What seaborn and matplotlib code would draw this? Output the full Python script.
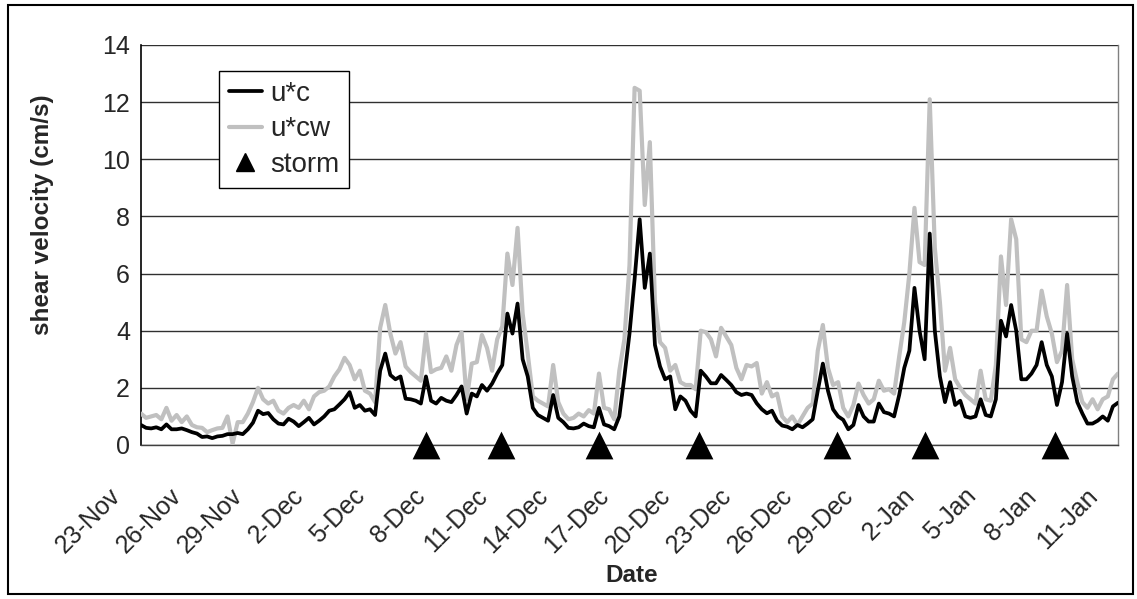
import matplotlib
import numpy as np
import pandas as pd

matplotlib.use("Agg")
import matplotlib.pyplot as plt
import matplotlib.transforms as mtransforms
from matplotlib.lines import Line2D
from matplotlib.patches import Rectangle
import seaborn as sns

# 6-hourly shear velocity samples (cm/s), starting at the 23-Nov tick
u_c = [
    0.70, 0.60, 0.58, 0.62, 0.55, 0.72, 0.55, 0.55,
    0.58, 0.52, 0.45, 0.40, 0.28, 0.30, 0.24, 0.30,
    0.32, 0.38, 0.38, 0.42, 0.38, 0.55, 0.78, 1.20,
    1.08, 1.12, 0.90, 0.75, 0.72, 0.92, 0.82, 0.66,
    0.80, 0.95, 0.72, 0.85, 1.00, 1.20, 1.25, 1.42,
    1.60, 1.85, 1.30, 1.40, 1.20, 1.25, 1.05, 2.60,
    3.20, 2.45, 2.30, 2.40, 1.62, 1.60, 1.55, 1.45,
    2.40, 1.55, 1.45, 1.65, 1.55, 1.50, 1.75, 2.05,
    1.10, 1.80, 1.70, 2.10, 1.90, 2.15, 2.50, 2.80,
    4.60, 3.90, 4.95, 3.00, 2.40, 1.30, 1.05, 0.95,
    0.85, 1.75, 0.95, 0.80, 0.60, 0.58, 0.62, 0.75,
    0.66, 0.62, 1.30, 0.72, 0.66, 0.55, 1.00, 2.40,
    3.90, 5.80, 7.90, 5.50, 6.70, 3.50, 2.75, 2.30,
    2.40, 1.25, 1.70, 1.55, 1.20, 1.00, 2.60, 2.40,
    2.16, 2.16, 2.45, 2.28, 2.10, 1.85, 1.75, 1.80,
    1.75, 1.46, 1.25, 1.11, 1.20, 0.85, 0.68, 0.64,
    0.55, 0.70, 0.62, 0.75, 0.90, 1.90, 2.85, 1.90,
    1.25, 1.00, 0.88, 0.55, 0.70, 1.40, 1.00, 0.82,
    0.82, 1.45, 1.15, 1.10, 1.00, 1.75, 2.70, 3.30,
    5.50, 4.00, 3.00, 7.40, 4.00, 2.40, 1.50, 2.20,
    1.40, 1.55, 1.00, 0.95, 1.00, 1.60, 1.05, 1.00,
    1.60, 4.35, 3.80, 4.90, 4.00, 2.30, 2.30, 2.50,
    2.80, 3.60, 2.80, 2.40, 1.40, 2.20, 3.90, 2.40,
    1.50, 1.10, 0.75, 0.75, 0.85, 1.00, 0.85, 1.35,
    1.48,
]
u_cw = [
    1.10, 0.95, 1.00, 1.05, 0.90, 1.30, 0.85, 1.05,
    0.80, 1.00, 0.70, 0.62, 0.60, 0.45, 0.52, 0.58,
    0.60, 1.00, 0.05, 0.80, 0.80, 1.10, 1.50, 2.00,
    1.60, 1.45, 1.55, 1.20, 1.10, 1.30, 1.40, 1.30,
    1.55, 1.25, 1.70, 1.85, 1.90, 2.05, 2.40, 2.65,
    3.05, 2.80, 2.30, 2.60, 1.90, 1.80, 1.50, 4.10,
    4.90, 3.90, 3.20, 3.60, 2.75, 2.55, 2.40, 2.25,
    3.90, 2.55, 2.65, 2.70, 3.10, 2.60, 3.50, 3.95,
    1.60, 2.85, 2.90, 3.85, 3.40, 2.60, 3.70, 4.15,
    6.70, 5.60, 7.60, 4.60, 3.20, 1.70, 1.55, 1.45,
    1.35, 2.80, 1.50, 1.10, 0.90, 0.95, 1.10, 1.00,
    1.22, 1.10, 2.50, 1.30, 1.25, 0.90, 2.60, 3.70,
    6.30, 12.50, 12.40, 8.40, 10.60, 5.00, 3.60, 3.40,
    2.60, 2.80, 2.20, 2.10, 2.10, 1.95, 4.00, 3.95,
    3.70, 3.10, 4.10, 3.80, 3.50, 2.70, 2.30, 2.80,
    2.75, 2.87, 1.80, 2.20, 1.70, 1.80, 1.00, 0.80,
    1.00, 0.70, 1.00, 1.30, 1.45, 3.30, 4.20, 2.70,
    2.10, 2.20, 1.30, 1.00, 1.40, 2.15, 1.75, 1.45,
    1.60, 2.25, 1.90, 1.95, 1.80, 3.10, 4.30, 6.00,
    8.30, 6.40, 6.30, 12.10, 6.90, 5.00, 2.60, 3.40,
    2.30, 2.00, 1.75, 1.60, 1.45, 2.60, 1.60, 1.55,
    2.80, 6.60, 4.90, 7.90, 7.20, 3.70, 3.60, 4.00,
    4.00, 5.40, 4.50, 3.90, 2.90, 3.30, 5.60, 3.00,
    2.20, 1.50, 1.30, 1.60, 1.25, 1.60, 1.70, 2.30,
    2.50,
]
storm_days = [14.0, 17.7, 22.5, 27.4, 34.2, 38.5, 44.9]
date_labels = ["23-Nov", "26-Nov", "29-Nov", "2-Dec", "5-Dec", "8-Dec",
               "11-Dec", "14-Dec", "17-Dec", "20-Dec", "23-Dec", "26-Dec",
               "29-Dec", "2-Jan", "5-Jan", "8-Jan", "11-Jan"]

samples_per_day = 4
df = pd.DataFrame({
    "day": np.arange(len(u_c)) / samples_per_day,
    "u*c": u_c,
    "u*cw": u_cw,
})
storms = pd.DataFrame({"day": storm_days, "level": np.zeros(len(storm_days))})

sns.set_style("white")
plt.rcParams["font.family"] = ["Liberation Sans", "DejaVu Sans"]

W, H = 1137, 599
fig = plt.figure(figsize=(W / 100, H / 100), dpi=100)
ax = fig.add_axes([141 / W, 1 - 445 / H, (1118 - 141) / W, 400 / H])

grey = "#c0c0c0"
sns.lineplot(data=df, x="day", y="u*cw", color=grey, lw=3.0, ax=ax,
             legend=False, zorder=3)
sns.lineplot(data=df, x="day", y="u*c", color="black", lw=2.7, ax=ax,
             legend=False, zorder=4)
sns.scatterplot(data=storms, x="day", y="level", marker="^", s=400,
                color="black", linewidth=0, ax=ax, legend=False,
                clip_on=False, zorder=6)

ax.set_xlim(0, 48)
ax.set_ylim(0, 14)
ax.set_yticks(range(0, 15, 2))
ax.yaxis.grid(True, color="#303030", lw=1)
ax.set_axisbelow(True)

ax.set_xticks(np.arange(0, 49, 3))
ax.set_xticklabels(date_labels, rotation=45, ha="right", va="center",
                   rotation_mode="anchor")
ax.set_xticks(np.arange(0, 48.01, 0.5), minor=True)
ax.tick_params(axis="x", which="major", length=0, pad=34, labelsize=18)
ax.tick_params(axis="x", which="minor", length=5.5, width=1,
               color="#303030", direction="out")
ax.tick_params(axis="y", length=5, width=1, color="black",
               direction="out", pad=3, labelsize=18)
shift = mtransforms.ScaledTranslation(-0.24, 0, fig.dpi_scale_trans)
for lbl in ax.get_xticklabels():
    lbl.set_transform(lbl.get_transform() + shift)

ax.spines["top"].set_visible(False)
ax.spines["left"].set_color("black")
ax.spines["left"].set_linewidth(1.2)
ax.spines["right"].set_color("#808080")
ax.spines["right"].set_linewidth(1)
ax.spines["bottom"].set_color("#404040")
ax.spines["bottom"].set_linewidth(1)

ax.set_xlabel("Date", fontsize=17.5, fontweight="bold")
ax.set_ylabel("shear velocity (cm/s)", fontsize=17.5, fontweight="bold")
ax.xaxis.set_label_coords((632 - 141) / 977, (445 - 575) / 400)
ax.xaxis.label.set_va("center")
ax.yaxis.set_label_coords((43 - 141) / 977, (445 - 215) / 400)
ax.yaxis.label.set_va("center")

handles = [
    Line2D([], [], color="black", lw=2.7, label="u*c"),
    Line2D([], [], color=grey, lw=3.0, label="u*cw"),
    Line2D([], [], color="black", marker="^", ls="none", markersize=13,
           label="storm"),
]
leg = ax.legend(handles=handles, loc="upper left",
                bbox_to_anchor=(219 / W, 1 - 71 / H),
                bbox_transform=fig.transFigure, borderaxespad=0,
                fontsize=20, frameon=True, fancybox=False, shadow=False,
                handlelength=1.2, handletextpad=0.3, borderpad=0.35,
                labelspacing=0.35)
leg.get_frame().set_edgecolor("black")
leg.get_frame().set_linewidth(1)
leg.get_frame().set_alpha(1)

fig.patches.append(Rectangle((8 / W, 5 / H), (1133 - 8) / W, (594 - 5) / H,
                             transform=fig.transFigure, fill=False,
                             edgecolor="black", lw=1.5))

fig.savefig("out.png", dpi=100)
plt.close(fig)
